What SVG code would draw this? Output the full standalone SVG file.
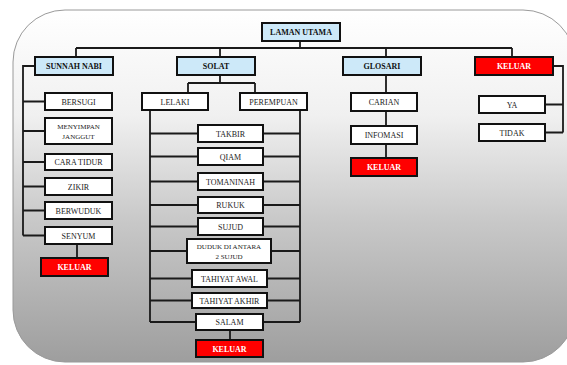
<svg xmlns="http://www.w3.org/2000/svg" width="567" height="365" viewBox="0 0 567 365">
<defs>
<linearGradient id="bg" x1="0" y1="0" x2="0" y2="1">
<stop offset="0" stop-color="#ffffff"/>
<stop offset="0.3" stop-color="#f0f0f0"/>
<stop offset="0.6" stop-color="#c8c8c8"/>
<stop offset="1" stop-color="#9e9e9e"/>
</linearGradient>
<style>
.b{fill:#cde9f9;stroke:#111;stroke-width:2}
.w{fill:#fff;stroke:#111;stroke-width:2}
.r{fill:#ff0000;stroke:#111;stroke-width:2}
text{font-family:"Liberation Serif","Times New Roman",serif;font-size:8px;text-anchor:middle}
.tb{font-weight:bold;fill:#111}
.tw{fill:#222}
.tr{font-weight:bold;fill:#fff}
.sm{font-size:7px}
.c{fill:none;stroke:#1a1a1a;stroke-width:1.8}
</style>
</defs>
<rect x="13" y="10" width="562" height="352" rx="52" ry="52" fill="url(#bg)" stroke="#9a9a9a" stroke-width="1"/>
<g id="connectors" class="c">
<path d="M300,41 V48 M76,48 H512 M76,48 V57 M220,48 V57 M386,48 V57 M512,48 V57"/>
<path d="M35,66 H23 V235.5 M23,101.5 H45 M23,131 H45 M23,162 H45 M23,186.5 H45 M23,210.5 H45 M23,235.5 H45 M77,244 V258"/>
<path d="M220,75 V83 M188,83 H255 M188,83 V93 M255,83 V93"/>
<path d="M150,110 V322 M300,110 V322"/>
<path d="M150,133.5 H300 M150,156.5 H300 M150,181.5 H300 M150,205 H300 M150,226.5 H300 M150,251 H300 M150,278.5 H300 M150,300.5 H300 M150,322 H300 M230,330 V340"/>
<path d="M386,75 V93 M386,111 V126 M386,144 V158"/>
<path d="M553,66 H563 V132.5 M545,104.5 H563 M545,132.5 H563"/>
</g>
<g id="laman-utama"><rect class="b" x="262" y="23" width="78" height="18"/><text class="tb" x="301" y="35">LAMAN UTAMA</text></g>
<g id="sunnah-nabi"><rect class="b" x="35" y="57" width="78" height="18"/><text class="tb" x="74" y="69">SUNNAH NABI</text></g>
<g id="solat"><rect class="b" x="177" y="57" width="78" height="18"/><text class="tb" x="216" y="69">SOLAT</text></g>
<g id="glosari"><rect class="b" x="343" y="57" width="78" height="18"/><text class="tb" x="382" y="69">GLOSARI</text></g>
<g id="keluar-main"><rect class="r" x="475" y="57" width="78" height="18"/><text class="tr" x="514" y="69">KELUAR</text></g>
<g id="bersugi"><rect class="w" x="45" y="93" width="67" height="17"/><text class="tw" x="78.5" y="104.5">BERSUGI</text></g>
<g id="menyimpan-janggut"><rect class="w" x="45" y="118" width="67" height="26"/><text class="tw sm" x="78.5" y="129">MENYIMPAN</text><text class="tw sm" x="78.5" y="138.5">JANGGUT</text></g>
<g id="cara-tidur"><rect class="w" x="45" y="154" width="67" height="16"/><text class="tw" x="78.5" y="165">CARA TIDUR</text></g>
<g id="zikir"><rect class="w" x="45" y="178" width="67" height="17"/><text class="tw" x="78.5" y="189.5">ZIKIR</text></g>
<g id="berwuduk"><rect class="w" x="45" y="202" width="67" height="17"/><text class="tw" x="78.5" y="213.5">BERWUDUK</text></g>
<g id="senyum"><rect class="w" x="45" y="227" width="67" height="17"/><text class="tw" x="78.5" y="238.5">SENYUM</text></g>
<g id="keluar-sunnah"><rect class="r" x="41" y="258" width="67" height="18"/><text class="tr" x="74.5" y="270">KELUAR</text></g>
<g id="lelaki"><rect class="w" x="142" y="93" width="66" height="17"/><text class="tw" x="175" y="104.5">LELAKI</text></g>
<g id="perempuan"><rect class="w" x="240" y="93" width="67" height="17"/><text class="tw" x="273.5" y="104.5">PEREMPUAN</text></g>
<g id="takbir"><rect class="w" x="198" y="125" width="65" height="17"/><text class="tw" x="230.5" y="136.5">TAKBIR</text></g>
<g id="qiam"><rect class="w" x="198" y="148" width="65" height="17"/><text class="tw" x="230.5" y="159.5">QIAM</text></g>
<g id="tomaninah"><rect class="w" x="198" y="173" width="65" height="17"/><text class="tw" x="230.5" y="184.5">TOMANINAH</text></g>
<g id="rukuk"><rect class="w" x="198" y="197" width="65" height="16"/><text class="tw" x="230.5" y="208">RUKUK</text></g>
<g id="sujud"><rect class="w" x="198" y="218" width="65" height="17"/><text class="tw" x="230.5" y="229.5">SUJUD</text></g>
<g id="duduk"><rect class="w" x="187" y="239" width="84" height="24"/><text class="tw sm" x="229" y="249">DUDUK DI ANTARA</text><text class="tw sm" x="229" y="258.5">2 SUJUD</text></g>
<g id="tahiyat-awal"><rect class="w" x="192" y="270" width="75" height="17"/><text class="tw" x="229.5" y="281.5">TAHIYAT AWAL</text></g>
<g id="tahiyat-akhir"><rect class="w" x="192" y="293" width="75" height="15"/><text class="tw" x="229.5" y="303.5">TAHIYAT AKHIR</text></g>
<g id="salam"><rect class="w" x="196" y="314" width="67" height="16"/><text class="tw" x="229.5" y="325">SALAM</text></g>
<g id="keluar-solat"><rect class="r" x="196" y="340" width="67" height="17"/><text class="tr" x="229.5" y="351.5">KELUAR</text></g>
<g id="carian"><rect class="w" x="351" y="93" width="66" height="18"/><text class="tw" x="384" y="105">CARIAN</text></g>
<g id="infomasi"><rect class="w" x="351" y="126" width="66" height="18"/><text class="tw" x="384" y="138">INFOMASI</text></g>
<g id="keluar-glosari"><rect class="r" x="351" y="158" width="66" height="18"/><text class="tr" x="384" y="170">KELUAR</text></g>
<g id="ya"><rect class="w" x="479" y="96" width="66" height="17"/><text class="tw" x="512" y="107.5">YA</text></g>
<g id="tidak"><rect class="w" x="479" y="124" width="66" height="17"/><text class="tw" x="512" y="135.5">TIDAK</text></g>
</svg>
